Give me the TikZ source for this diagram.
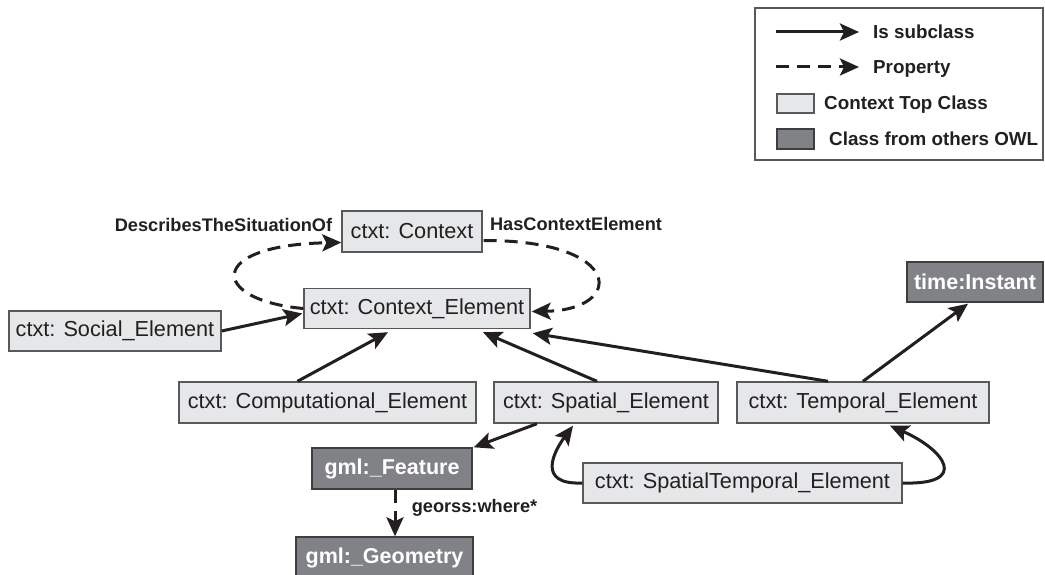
\documentclass[tikz,border=0pt]{standalone}
\usepackage{fontspec}
\setmainfont{Liberation Sans}
\usetikzlibrary{arrows.meta,calc}
\definecolor{lightfill}{HTML}{E6E7E8}
\definecolor{darkfill}{HTML}{808285}
\definecolor{ink}{HTML}{231F20}
\definecolor{edgegray}{HTML}{58595B}
\tikzset{
  cls/.style={draw=edgegray, line width=1.4pt, fill=lightfill, inner sep=0pt, text=ink,
    font=\fontsize{21.7}{26}\selectfont},
  ext/.style={draw=edgegray!70!black, line width=1.4pt, fill=darkfill, inner sep=0pt, text=white,
    font=\fontsize{21.5}{26}\selectfont\bfseries},
  sub/.style={draw=ink, line width=3pt, -{Stealth[length=19pt,width=17pt,inset=4pt]}},
  prop/.style={sub, dash pattern=on 13pt off 8pt},
  lbl/.style={text=ink, font=\fontsize{18.2}{22}\selectfont\bfseries, inner sep=0pt},
  leg/.style={text=ink, font=\fontsize{18.8}{22}\selectfont\bfseries, inner sep=0pt,
    anchor=west, text height=13.5pt, text depth=0pt},
}
\begin{document}
\begin{tikzpicture}[x=1pt,y=-1pt]
\useasboundingbox (0,0) rectangle (1045,575);

% legend
\node[draw=edgegray, line width=1.2pt, minimum width=288pt, minimum height=152pt, inner sep=0pt] (legend) at (899,84) {};
\coordinate (l1a) at (776,32);
\coordinate (l1b) at (859,32);
\draw[sub] (l1a) -- (l1b);
\node[leg] (l1t) at (873,32) {Is subclass};
\coordinate (l2a) at (776,67);
\coordinate (l2b) at (859,67);
\draw[prop] (l2a) -- (l2b);
\node[leg] (l2t) at (873,67) {Property};
\node[cls, minimum width=37pt, minimum height=19pt] (l3b) at (795.5,103.5) {};
\node[leg] (l3t) at (824,103) {Context Top Class};
\node[ext, minimum width=37pt, minimum height=20pt] (l4b) at (795.5,139) {};
\node[leg] (l4t) at (829,139) {Class from others OWL};

% nodes
\node[cls, minimum width=140pt, minimum height=41pt] (ctx) at (412,231.5) {ctxt: Context};
\node[cls, minimum width=226pt, minimum height=40pt] (ce) at (417,308.5) {ctxt: Context\_Element};
\node[cls, minimum width=212pt, minimum height=40pt] (social) at (115,331) {ctxt: Social\_Element};
\node[cls, minimum width=297pt, minimum height=41pt] (comp) at (327.5,402.5) {ctxt: Computational\_Element};
\node[cls, minimum width=224pt, minimum height=41pt] (spatial) at (606,402.5) {ctxt: Spatial\_Element};
\node[cls, minimum width=252pt, minimum height=41pt] (temporal) at (863,402.5) {ctxt: Temporal\_Element};
\node[cls, minimum width=319pt, minimum height=40pt] (st) at (742.5,483) {ctxt: SpatialTemporal\_Element};
\node[ext, minimum width=136pt, minimum height=40pt] (instant) at (975,282) {time:Instant};
\node[ext, minimum width=160pt, minimum height=41pt] (feature) at (392,468.5) {gml:\_Feature};
\node[ext, minimum width=177pt, minimum height=41pt] (geometry) at (384.5,557.5) {gml:\_Geometry};

% labels
\node[lbl] (dlabel) at (223.5,225) {DescribesTheSituationOf};
\node[lbl] (hlabel) at (576,224) {HasContextElement};
\node[lbl] (glabel) at (474.5,508) {georss:where*};

% property loops
\draw[prop] (ce.west) .. controls (210,300) and (205,245) .. ($(ctx.west)+(0,11)$);
\draw[prop] ($(ctx.east)+(1,9)$) .. controls (625,240) and (625,310) .. ($(ce.east)+(1,3)$);

% subclass arrows
\draw[sub] (social.east) -- ($(ce.west)+(-1,5)$);
\draw[sub] ($(comp.north)+(-30,0)$) -- ($(ce.south)+(-29,3)$);
\draw[sub] ($(spatial.north)+(-9,0)$) -- ($(ce.south)+(66,3)$);
\draw[sub] ($(temporal.north)+(-35,0)$) -- ($(ce.south east)+(2,4)$);
\draw[sub] (temporal.north) -- ($(instant.south)+(-7,1)$);
\draw[sub] ($(spatial.south)+(-69,0)$) -- ($(feature.north east)+(1,0)$);
\draw[sub] (st.west) .. controls (535,485) and (555,450) .. ($(spatial.south)+(-33,2)$);
\draw[sub] (st.east) .. controls (970,485) and (945,450) .. ($(temporal.south)+(27,2)$);

% georss:where
\coordinate (fg) at ($(feature.south)+(3,0)$);
\draw[prop] (fg) -- (fg |- geometry.north);
\end{tikzpicture}
\end{document}
